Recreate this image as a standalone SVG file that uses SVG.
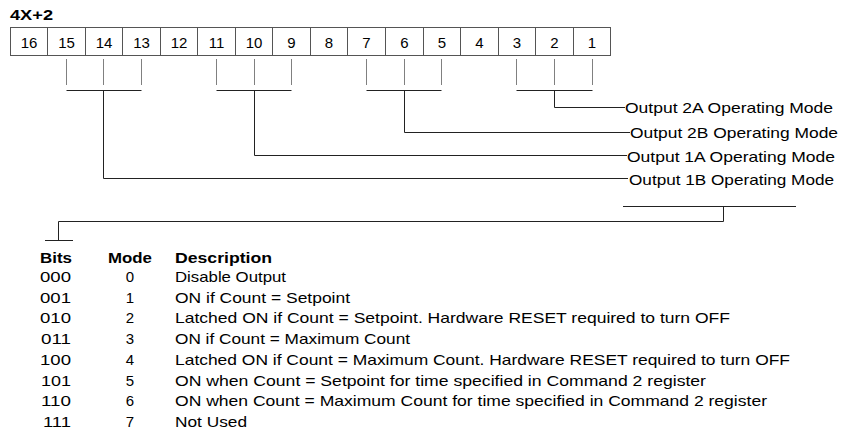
<svg xmlns="http://www.w3.org/2000/svg" width="849" height="430" viewBox="0 0 849 430">
<style>
text{font-family:"Liberation Sans",Arial,Helvetica,sans-serif;fill:#000;font-size:15px}
.b{font-weight:bold}
.c{text-anchor:middle}
.n{font-size:16px}
.cell{fill:#fff;stroke:#555;stroke-width:1}
.div{stroke:#555;stroke-width:1}
.tick{stroke:#808080;stroke-width:1;fill:none}
.ln{stroke:#222;stroke-width:1;fill:none}
</style>
<rect width="849" height="430" fill="#fff"/>
<g id="register">
<text class="b" x="10" y="20" font-size="14" textLength="43" lengthAdjust="spacingAndGlyphs">4X+2</text>
<rect class="cell" x="10.5" y="27.5" width="600" height="28"/>
<path class="div" d="M47.5 27.5V55.5M85.5 27.5V55.5M122.5 27.5V55.5M160.5 27.5V55.5M197.5 27.5V55.5M235.5 27.5V55.5M272.5 27.5V55.5M310.5 27.5V55.5M347.5 27.5V55.5M385.5 27.5V55.5M423.5 27.5V55.5M460.5 27.5V55.5M498.5 27.5V55.5M535.5 27.5V55.5M573.5 27.5V55.5"/>
<g class="c n">
<text x="29" y="48">16</text>
<text x="66.5" y="48">15</text>
<text x="104" y="48">14</text>
<text x="141.5" y="48">13</text>
<text x="179" y="48">12</text>
<text x="216.5" y="48">11</text>
<text x="254" y="48">10</text>
<text x="291.5" y="48">9</text>
<text x="329" y="48">8</text>
<text x="366.5" y="48">7</text>
<text x="404.5" y="48">6</text>
<text x="442" y="48">5</text>
<text x="479.5" y="48">4</text>
<text x="517" y="48">3</text>
<text x="554.5" y="48">2</text>
<text x="592" y="48">1</text>
</g>
</g>
<g id="connectors">
<path class="tick" d="M66.5 59V85M103.5 59V85M141.5 59V85M216.5 59V85M254.5 59V85M291.5 59V85M366.5 59V85M404.5 59V85M441.5 59V85M516.5 59V85M554.5 59V85M592.5 59V85"/>
<path class="ln" d="M66.5 90.5H141.5M216.5 90.5H291.5M366.5 90.5H441.5M516.5 90.5H592.5"/>
<path class="ln" d="M554.5 90.5V107.5H625"/>
<path class="ln" d="M404.5 90.5V132.5H630"/>
<path class="ln" d="M254.5 90.5V155.5H627"/>
<path class="ln" d="M103.5 90.5V178.5H628"/>
<path class="ln" d="M623 206.5H796M723.5 206.5V221.5H58.5V240.5M45 240.5H73"/>
</g>
<g id="out-2a"><text x="625" y="112.5" textLength="208" lengthAdjust="spacingAndGlyphs">Output 2A Operating Mode</text></g>
<g id="out-2b"><text x="630" y="138.3" textLength="208" lengthAdjust="spacingAndGlyphs">Output 2B Operating Mode</text></g>
<g id="out-1a"><text x="627" y="161.7" textLength="208" lengthAdjust="spacingAndGlyphs">Output 1A Operating Mode</text></g>
<g id="out-1b"><text x="629" y="185" textLength="205" lengthAdjust="spacingAndGlyphs">Output 1B Operating Mode</text></g>
<g id="mode-table">
<text class="b" x="40" y="263" textLength="32" lengthAdjust="spacingAndGlyphs">Bits</text>
<text class="b" x="108" y="263" textLength="44" lengthAdjust="spacingAndGlyphs">Mode</text>
<text class="b" x="175" y="263" textLength="97" lengthAdjust="spacingAndGlyphs">Description</text>
<g>
<text x="40" y="282" textLength="31" lengthAdjust="spacingAndGlyphs">000</text>
<text x="40" y="302.7" textLength="31" lengthAdjust="spacingAndGlyphs">001</text>
<text x="40" y="323.4" textLength="31" lengthAdjust="spacingAndGlyphs">010</text>
<text x="41" y="344.1" textLength="30" lengthAdjust="spacingAndGlyphs">011</text>
<text x="40" y="364.8" textLength="31" lengthAdjust="spacingAndGlyphs">100</text>
<text x="41" y="385.5" textLength="30" lengthAdjust="spacingAndGlyphs">101</text>
<text x="41" y="406.2" textLength="30" lengthAdjust="spacingAndGlyphs">110</text>
<text x="43" y="426.9" textLength="28" lengthAdjust="spacingAndGlyphs">111</text>
</g>
<g class="c">
<text x="130" y="282">0</text>
<text x="130" y="302.7">1</text>
<text x="130" y="323.4">2</text>
<text x="130" y="344.1">3</text>
<text x="130" y="364.8">4</text>
<text x="130" y="385.5">5</text>
<text x="130" y="406.2">6</text>
<text x="130" y="426.9">7</text>
</g>
<g>
<text x="175" y="282" textLength="111" lengthAdjust="spacingAndGlyphs">Disable Output</text>
<text x="175" y="302.7" textLength="175" lengthAdjust="spacingAndGlyphs">ON if Count = Setpoint</text>
<text x="175" y="323.4" textLength="555" lengthAdjust="spacingAndGlyphs">Latched ON if Count = Setpoint. Hardware RESET required to turn OFF</text>
<text x="175" y="344.1" textLength="235" lengthAdjust="spacingAndGlyphs">ON if Count = Maximum Count</text>
<text x="175" y="364.8" textLength="615" lengthAdjust="spacingAndGlyphs">Latched ON if Count = Maximum Count. Hardware RESET required to turn OFF</text>
<text x="175" y="385.5" textLength="531" lengthAdjust="spacingAndGlyphs">ON when Count = Setpoint for time specified in Command 2 register</text>
<text x="175" y="406.2" textLength="592" lengthAdjust="spacingAndGlyphs">ON when Count = Maximum Count for time specified in Command 2 register</text>
<text x="175" y="426.9" textLength="72" lengthAdjust="spacingAndGlyphs">Not Used</text>
</g>
</g>
</svg>
